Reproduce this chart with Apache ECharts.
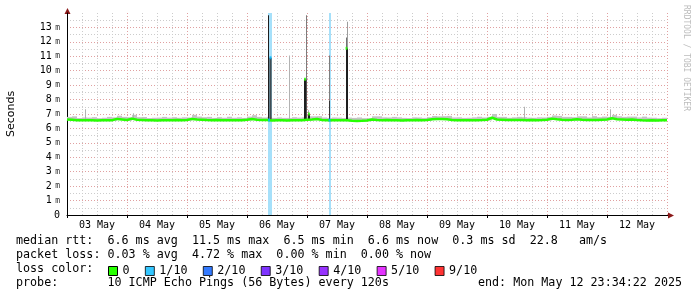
<!DOCTYPE html>
<html><head><meta charset="utf-8">
<script src="https://cdn.jsdelivr.net/npm/echarts@6/dist/echarts.min.js"></script>
<style>html,body{margin:0;padding:0;background:#fff}#c{width:697px;height:297px}</style>
</head><body><div id="c"></div>
<script>
// ---------- data ----------
const dayLabels = ['03 May','04 May','05 May','06 May','07 May','08 May','09 May','10 May','11 May','12 May'];
const stepHours = 2; // median sampled every 2 hours from 03 May 00:00
const median = [
6.62,6.60,6.56,6.56,6.57,6.56,6.55,6.56,6.56,6.57,
6.66,6.62,6.58,6.68,6.60,6.58,6.56,6.56,6.55,6.56,
6.57,6.56,6.58,6.57,6.58,6.66,6.62,6.60,6.58,6.57,
6.58,6.56,6.57,6.56,6.57,6.57,6.60,6.66,6.60,6.58,
6.58,6.55,6.56,6.57,6.55,6.56,6.57,6.57,6.60,6.62,
6.65,6.58,6.57,6.56,6.57,6.56,6.57,6.53,6.52,6.53,
6.55,6.62,6.58,6.57,6.58,6.56,6.57,6.55,6.56,6.57,
6.58,6.57,6.58,6.64,6.66,6.65,6.63,6.58,6.57,6.57,
6.56,6.57,6.57,6.58,6.60,6.74,6.62,6.60,6.58,6.59,
6.58,6.58,6.57,6.58,6.57,6.58,6.60,6.68,6.63,6.60,
6.58,6.60,6.64,6.60,6.58,6.59,6.58,6.60,6.62,6.70,
6.64,6.62,6.60,6.62,6.58,6.56,6.55,6.56,6.55,6.56,
6.56];
// height of the light smoke band above the median (ms)
const smokeSpread = [
0.18,0.24,0.16,0.20,0.18,0.22,0.16,0.18,0.24,0.20,
0.22,0.18,0.20,0.26,0.18,0.21,0.16,0.18,0.20,0.24,
0.18,0.22,0.16,0.20,0.18,0.28,0.20,0.18,0.22,0.16,
0.20,0.18,0.24,0.18,0.20,0.16,0.22,0.26,0.20,0.18,
0.22,0.18,0.20,0.16,0.18,0.22,0.18,0.20,0.24,0.22,
0.20,0.18,0.16,0.20,0.18,0.16,0.18,0.20,0.24,0.18,
0.16,0.22,0.26,0.20,0.18,0.24,0.20,0.18,0.16,0.20,
0.18,0.16,0.20,0.22,0.18,0.20,0.24,0.18,0.20,0.16,
0.18,0.20,0.24,0.18,0.20,0.26,0.18,0.20,0.16,0.18,
0.22,0.20,0.18,0.16,0.20,0.18,0.20,0.22,0.24,0.20,
0.22,0.18,0.20,0.24,0.18,0.26,0.20,0.22,0.18,0.24,
0.20,0.18,0.22,0.20,0.18,0.26,0.20,0.18,0.16,0.18,
0.18];
// smoke columns: [hour, low ms, high ms, density 0..1]
const spikes = [
[7.2,6.6,7.33,0.25],[26.4,6.6,7.05,0.25],
[80.4,6.6,13.85,0.95],[81.0,6.6,10.9,0.95],[81.4,6.6,10.9,0.95],
[88.8,6.6,11.05,0.25],
[94.8,6.6,9.4,0.95],[95.2,6.6,9.4,0.95],[95.6,9.4,13.85,0.5],[95.6,6.6,9.4,0.7],
[96.4,6.6,7.0,0.95],[96.8,6.6,7.0,0.95],[96.4,7.0,7.26,0.3],
[104.8,6.6,11.05,0.5],[104.8,6.6,7.9,0.85],
[111.6,6.6,11.55,0.95],[112.0,6.6,11.55,0.95],[111.6,11.55,12.3,0.55],[112.0,11.55,13.4,0.35],
[182.8,6.6,7.5,0.25],[217.2,6.6,7.33,0.25]
];
// loss background bands: [start hour, end hour, loss level index]
const lossBands = [[80.4,82.0,1],[104.8,105.6,1]];
// isolated median samples: [hour, ms, loss level index]
const medianPoints = [[80.8,6.58,1],[81.4,10.9,1],[95.2,9.4,0],[96.8,7.0,0],[105.0,6.58,1],[111.8,11.55,0]];
const lossLevels = ['0','1/10','2/10','3/10','4/10','5/10','9/10'];
const lossColors = ['#26ff00','#00b8ff','#0059ff','#5e00ff','#7e00ff','#dd00ff','#ff0000'];
const lossBg = ['#c8ffb8','#a6e0fa','#a8c4ff','#c8a8ff','#d4a8ff','#f2a8ff','#ffa8a8'];
const statLines = [
 'median rtt:  6.6 ms avg  11.5 ms max  6.5 ms min  6.6 ms now  0.3 ms sd  22.8   am/s',
 'packet loss: 0.03 % avg  4.72 % max  0.00 % min  0.00 % now',
 'loss color:',
 'probe:       10 ICMP Echo Pings (56 Bytes) every 120s'
];
const endText = 'end: Mon May 12 23:34:22 2025';
const watermark = 'RRDTOOL / TOBI OETIKER';

// ---------- chart ----------
const GL = 67, GT = 13, GW = 600, GH = 202;
const mono = '"DejaVu Sans Mono", monospace';
const txtFont = '11.7px ' + mono;
const chart = echarts.init(document.getElementById('c'), null, {renderer:'canvas'});

const smokeData = median.map((m,i)=>[i*stepHours, m-0.05, m+smokeSpread[i]]);
const lineData = median.map((m,i)=>[i*stepHours, m]);

const series = [
 {type:'custom', name:'lossbg', z:1, clip:true, silent:true,
  data: lossBands, encode:{x:[0,1]},
  renderItem(p, api){
    const a = api.coord([api.value(0), 14]), b = api.coord([api.value(1), 0]);
    return {type:'rect', shape:{x:a[0], y:a[1], width:b[0]-a[0], height:b[1]-a[1]}, style:{fill: lossBg[api.value(2)]}};
  }},
 {type:'custom', name:'smoke', z:2, clip:true, silent:true,
  data: smokeData, encode:{x:0, y:[1,2]},
  renderItem(p, api){
    const a = api.coord([api.value(0), api.value(2)]), b = api.coord([api.value(0), api.value(1)]);
    const w = api.size([stepHours,0])[0];
    return {type:'rect', shape:{x:a[0], y:a[1], width:w, height:b[1]-a[1]}, style:{fill:'#c4c4c4'}};
  }},
 {type:'custom', name:'spikes', z:3, clip:true, silent:true,
  data: spikes, encode:{x:0, y:[1,2]},
  renderItem(p, api){
    const a = api.coord([api.value(0), api.value(2)]), b = api.coord([api.value(0), api.value(1)]);
    const w = api.size([0.4,0])[0];
    const g = Math.round(230 - api.value(3)*210);
    return {type:'rect', shape:{x:a[0], y:a[1], width:w, height:b[1]-a[1]}, style:{fill:`rgb(${g},${g},${g})`}};
  }},
 {type:'line', name:'0', z:4, data: lineData, showSymbol:false, symbol:'none',
  lineStyle:{color:lossColors[0], width:2.5}, itemStyle:{color:lossColors[0]}, animation:false, silent:true}
];
lossLevels.forEach((name, li)=>{
  series.push({type:'scatter', name, z:5, symbol:'rect', symbolSize:[2,3], silent:true,
    itemStyle:{color:lossColors[li]},
    data: medianPoints.filter(p=>p[2]===li).map(p=>[p[0],p[1]])});
});

const graphic = [];
[241,255,269,283].forEach((y,i)=>{
  graphic.push({type:'text', x:16, y, silent:true, style:{text:statLines[i], font:txtFont, fill:'#000', verticalAlign:'middle'}});
});
graphic.push({type:'text', x:478, y:283, style:{text:endText, font:txtFont, fill:'#000', verticalAlign:'middle'}});
graphic.push({type:'text', x:686, y:5, rotation:-Math.PI/2, style:{text:watermark, font:'8px '+mono, fill:'#bcbcbc', verticalAlign:'middle', align:'left'}});
graphic.push({type:'line', shape:{x1:GL+GW, y1:GT+GH+0.5, x2:GL+GW+3, y2:GT+GH+0.5}, style:{stroke:'#000', lineWidth:1}});
graphic.push({type:'polygon', shape:{points:[[GL+GW+1,GT+GH-2.5],[GL+GW+1,GT+GH+3.5],[GL+GW+7,GT+GH+0.5]]}, style:{fill:'#8b1a1a'}});
graphic.push({type:'polygon', shape:{points:[[GL-2.5,GT+1],[GL+3.5,GT+1],[GL+0.5,GT-5]]}, style:{fill:'#8b1a1a'}});

chart.setOption({
  animation:false,
  backgroundColor:'#fff',
  grid:{left:GL, top:GT, width:GW, height:GH, containLabel:false, outerBoundsMode:'none'},
  xAxis:{type:'value', min:0, max:240, interval:24,
    axisLine:{show:true, lineStyle:{color:'#000', width:1}},
    axisTick:{show:true, length:3, lineStyle:{color:'#000'}},
    minorTick:{show:false, splitNumber:4},
    splitLine:{show:true, showMinLine:false, lineStyle:{color:'#e0a0a0', type:[1,2], width:1}},
    minorSplitLine:{show:true, lineStyle:{color:'#cccccc', type:[1,2], width:1}},
    axisLabel:{margin:5, color:'#000', fontFamily:mono, fontSize:10, showMaxLabel:false,
      formatter:(v)=>{const k=Math.round(v/24); return k<dayLabels.length ? '{d|'+dayLabels[k]+'}' : '';},
      rich:{d:{fontFamily:mono, fontSize:10, color:'#000', padding:[0,0,0,60]}}}
  },
  yAxis:{type:'value', min:0, max:14, interval:1,
    name:'Seconds', nameLocation:'middle', nameRotate:90, nameGap:50,
    nameTextStyle:{fontFamily:'"DejaVu Sans"', fontSize:11, color:'#000'},
    axisLine:{show:true, lineStyle:{color:'#000', width:1}},
    axisTick:{show:false},
    minorTick:{show:false, splitNumber:2},
    splitLine:{show:true, showMinLine:false, showMaxLine:false, lineStyle:{color:'#e0a0a0', type:[1,2], width:1}},
    minorSplitLine:{show:true, lineStyle:{color:'#cccccc', type:[1,2], width:1}},
    axisLabel:{margin:7, showMaxLabel:false, color:'#000',
      formatter:(v)=> v===0 ? '{n|0}' : '{n|'+v+'} {u|m}',
      rich:{n:{fontFamily:mono, fontSize:10, color:'#000'}, u:{fontFamily:mono, fontSize:8, color:'#333'}}}
  },
  legend:{show:true, data:lossLevels, left:108, top:265, orient:'horizontal', padding:0,
    itemWidth:9, itemHeight:9, itemGap:15.3, icon:'rect', selectedMode:false,
    itemStyle:{borderColor:'#000', borderWidth:1},
    textStyle:{font:txtFont, fontFamily:mono, fontSize:11.7, color:'#000',
      rich:{w:{fontFamily:mono, fontSize:11.7, width:8.7, color:'#000'}}},
    formatter:(n)=> n==='0' ? '{w|0}' : n
  },
  graphic,
  series
});
</script></body></html>
